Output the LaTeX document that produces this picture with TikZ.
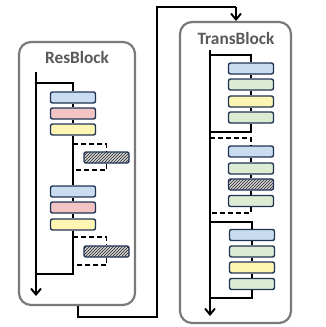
\documentclass[tikz,border=0pt]{standalone}
\usepackage{fontspec}
\setmainfont{Carlito}
\usetikzlibrary{patterns,arrows.meta}
\definecolor{bblue}{HTML}{C9DCF0}
\definecolor{bpink}{HTML}{F2C4C4}
\definecolor{byel}{HTML}{FFF5B3}
\definecolor{bgreen}{HTML}{DDEBD3}
\definecolor{bedge}{HTML}{1F3354}
\definecolor{framegray}{HTML}{7A7A7A}
\definecolor{titlegray}{HTML}{595959}
\tikzset{
  blk/.style={draw=bedge, line width=1.4pt, rounded corners=2pt, minimum width=45pt, minimum height=11pt, inner sep=0pt},
  hatch/.style={blk, preaction={fill=gray!35}, pattern=north east lines, pattern color=black!85},
  frame/.style={draw=framegray, line width=2.2pt, rounded corners=12pt},
  title/.style={font=\fontsize{17.3}{17.3}\selectfont\bfseries, text=titlegray},
  wire/.style={line width=1.9pt, black},
  dwire/.style={wire, dashed, dash pattern=on 5pt off 3pt},
  arr/.style={wire, -{Straight Barb[length=6pt,width=10pt,line width=1.9pt]}}
}
\begin{document}
\begin{tikzpicture}[x=1pt,y=-1pt]
\useasboundingbox (0,0) rectangle (325,327);
% ResBlock frame
\draw[frame] (19,42) rectangle (135,305);
\node[title] (rt) at (77,57) {ResBlock};
% ResBlock blocks
\node[blk, fill=bblue] (r1) at (73,97.5) {};
\node[blk, fill=bpink] (r2) at (73,113.5) {};
\node[blk, fill=byel] (r3) at (73,129.5) {};
\node[hatch] (rh1) at (106.5,157.5) {};
\node[blk, fill=bblue] (r4) at (73,191.5) {};
\node[blk, fill=bpink] (r5) at (73,207.5) {};
\node[blk, fill=byel] (r6) at (73,224.5) {};
\node[hatch] (rh2) at (106.5,251.5) {};
\coordinate (rs) at (36,72);
\coordinate (rb1) at (36,83);
\coordinate (rb2) at (36,274);
\coordinate (rend) at (36,296);
\draw[arr] (rs) -- (rend);
\draw[wire] (rb1) -| (r1.north);
\draw[wire] (r1) -- (r2) (r2) -- (r3) (r3) -- (r4) (r4) -- (r5) (r5) -- (r6);
\draw[wire] (r6.south) |- (rb2);
\draw[dwire] (73,144) -| (rh1.north);
\draw[dwire] (rh1.south) |- (73,170);
\draw[dwire] (73,237) -| (rh2.north);
\draw[dwire] (rh2.south) |- (73,265);
% connector between blocks
\coordinate (c0) at (78,306);
\coordinate (c1) at (78,317);
\coordinate (c2) at (157,317);
\coordinate (c3) at (157,7);
\coordinate (c4) at (236,7);
\coordinate (c5) at (236,21);
\draw[wire] (c0) -- (c1) -- (c2) -- (c3) -- (c4);
\draw[arr] (c4) -- (c5);
% TransBlock frame
\draw[frame] (180,22) rectangle (291,323);
\node[title] (tt) at (236,38) {TransBlock};
\node[blk, fill=bblue] (t1) at (251,68.5) {};
\node[blk, fill=bgreen] (t2) at (251,84.5) {};
\node[blk, fill=byel] (t3) at (251,101.5) {};
\node[blk, fill=bgreen] (t4) at (251,117.5) {};
\node[blk, fill=bblue] (t5) at (251,151.5) {};
\node[blk, fill=bgreen] (t6) at (251,168.5) {};
\node[hatch] (t7) at (251,184.5) {};
\node[blk, fill=bgreen] (t8) at (251,201) {};
\node[blk, fill=bblue] (t9) at (252,235) {};
\node[blk, fill=bgreen] (t10) at (252,251.5) {};
\node[blk, fill=byel] (t11) at (252,267.5) {};
\node[blk, fill=bgreen] (t12) at (252,284) {};
\coordinate (ts) at (210,50);
\coordinate (tend) at (210,316);
\draw[arr] (ts) -- (tend);
\draw[wire] (210,55) -| (t1.north);
\draw[wire] (t1) -- (t2) (t2) -- (t3) (t3) -- (t4);
\draw[wire] (t4.south) |- (210,132);
\draw[dwire] (210,138) -| (t5.north);
\draw[wire] (t5) -- (t6) (t6) -- (t7) (t7) -- (t8);
\draw[dwire] (t8.south) |- (210,213);
\draw[wire] (210,222) -| (t9.north);
\draw[wire] (t9) -- (t10) (t10) -- (t11) (t11) -- (t12);
\draw[wire] (t12.south) |- (210,298);
\end{tikzpicture}
\end{document}
